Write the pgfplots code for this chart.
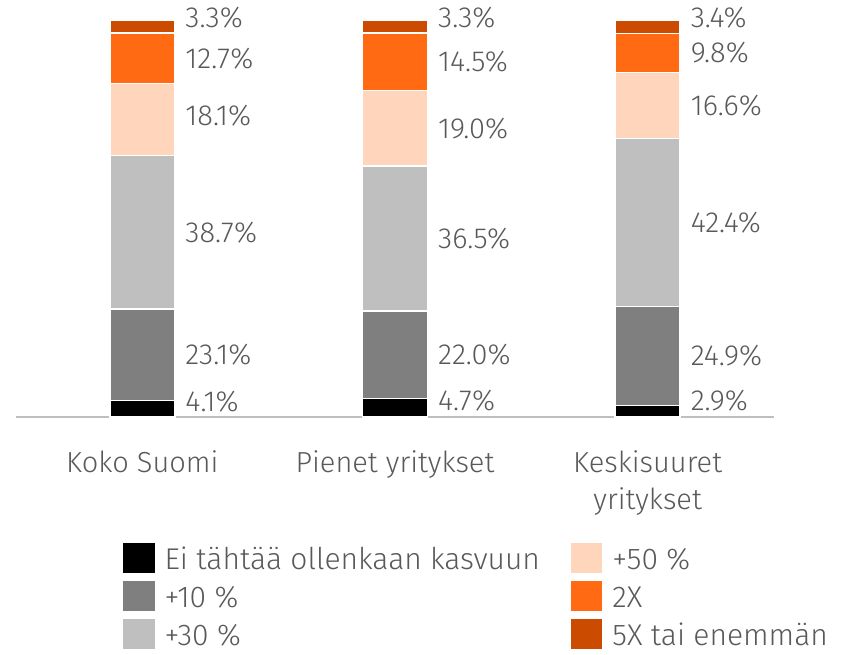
\documentclass[border=0pt]{standalone}
\usepackage{pgfplots}
\pgfplotsset{compat=1.18}
\usepackage{fontspec}
\setmainfont{Fira Sans Light}
\definecolor{txt}{HTML}{595959}
\definecolor{cA}{HTML}{000000}
\definecolor{cB}{HTML}{7F7F7F}
\definecolor{cC}{HTML}{BFBFBF}
\definecolor{cD}{HTML}{FFD5BB}
\definecolor{cE}{HTML}{FF6A13}
\definecolor{cF}{HTML}{CB4B00}
\pgfplotsset{
  base/.style={
    at={(0,0)}, anchor=south west,
    scale only axis, width=758pt, height=397pt,
    xmin=-0.5, xmax=2.5, ymin=0, ymax=100,
    clip=false,
  },
}
\begin{document}
\begin{tikzpicture}
\path[use as bounding box] (-16pt,-237pt) rectangle (826pt,417pt);
\begin{axis}[
  base,
  ybar stacked, bar width=65pt,
  axis x line=bottom, axis y line=none,
  x axis line style={-, draw=cC, line width=2pt},
  xtick={0,1,2},
  xticklabels={Koko Suomi, Pienet yritykset, {Keskisuuret\\yritykset}},
  xticklabel style={anchor=north, yshift=-33pt, inner sep=0pt, align=center,
    font=\fontsize{29}{37}\selectfont, text=txt},
  major tick length=0pt,
  ytick=\empty,
  every axis plot/.append style={draw=white, line width=1.5pt},
  legend columns=2,
  legend style={at={(0.141,-0.318)}, anchor=north west, draw=none, fill=none,
    font=\fontsize{30}{34}\selectfont, text=txt,
    /tikz/every even column/.append style={column sep=31pt},
    /tikz/every odd column/.append style={column sep=10pt},
    nodes={inner sep=0pt, text height=23pt, text depth=1pt},
    row sep=8.5pt, inner sep=0pt},
  legend cell align=left,
]
\addplot[fill=cA, forget plot] coordinates {(0,4.1) (1,4.7) (2,2.9)};
\addplot[fill=cB, forget plot] coordinates {(0,23.1) (1,22.0) (2,24.9)};
\addplot[fill=cC, forget plot] coordinates {(0,38.7) (1,36.5) (2,42.4)};
\addplot[fill=cD, forget plot] coordinates {(0,18.1) (1,19.0) (2,16.6)};
\addplot[fill=cE, forget plot] coordinates {(0,12.7) (1,14.5) (2,9.8)};
\addplot[fill=cF, forget plot] coordinates {(0,3.3) (1,3.3) (2,3.4)};
\addlegendimage{legend image code/.code={\fill[cA] (0pt,-14pt) rectangle (30pt,14pt);}}
\addlegendentry{Ei tähtää ollenkaan kasvuun}
\addlegendimage{legend image code/.code={\fill[cD] (0pt,-14pt) rectangle (30pt,14pt);}}
\addlegendentry{+50 \%}
\addlegendimage{legend image code/.code={\fill[cB] (0pt,-14pt) rectangle (30pt,14pt);}}
\addlegendentry{+10 \%}
\addlegendimage{legend image code/.code={\fill[cE] (0pt,-14pt) rectangle (30pt,14pt);}}
\addlegendentry{2X}
\addlegendimage{legend image code/.code={\fill[cC] (0pt,-14pt) rectangle (30pt,14pt);}}
\addlegendentry{+30 \%}
\addlegendimage{legend image code/.code={\fill[cF] (0pt,-14pt) rectangle (30pt,14pt);}}
\addlegendentry{5X tai enemmän}
\end{axis}
\begin{axis}[base, hide axis]
\addplot[draw=none, mark=none, nodes near coords, point meta=explicit symbolic,
  nodes near coords align={center},
  every node near coord/.append style={anchor=west, inner sep=0pt, text=txt,
    font=\fontsize{29}{34}\selectfont}]
coordinates {
  (0.17,3.8) [4.1\%] (0.17,15.65) [23.1\%] (0.17,46.55) [38.7\%]
  (0.17,75.95) [18.1\%] (0.17,90.35) [12.7\%] (0.17,100.5) [3.3\%]
  (1.17,4.2) [4.7\%] (1.17,15.7) [22.0\%] (1.17,44.95) [36.5\%]
  (1.17,72.7) [19.0\%] (1.17,89.45) [14.5\%] (1.17,100.5) [3.3\%]
  (2.17,4.0) [2.9\%] (2.17,15.35) [24.9\%] (2.17,49.0) [42.4\%]
  (2.17,78.5) [16.6\%] (2.17,91.7) [9.8\%] (2.17,100.5) [3.4\%]
};
\end{axis}
\end{tikzpicture}
\end{document}
